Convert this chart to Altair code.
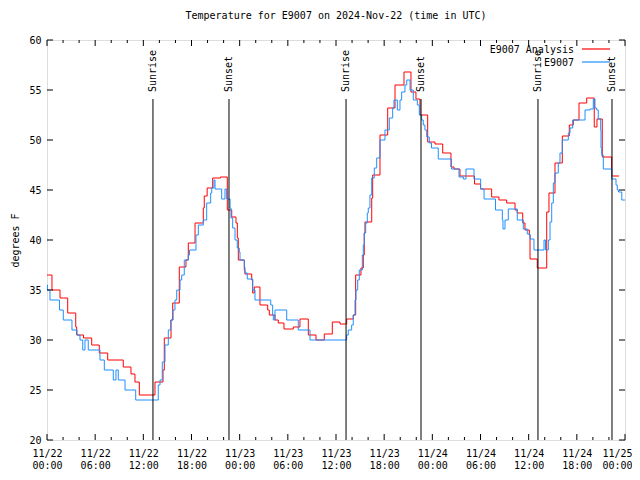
import altair as alt
import pandas as pd

# ---- data (hours since 2024-11-22 00:00 UTC, degrees F) ----
red_hours = [0.0, 0.62, 1.62, 2.58, 3.58, 3.70, 4.55, 5.57, 6.51, 7.56, 9.50, 10.46, 10.96, 11.50, 13.45, 14.45, 14.61, 15.45, 15.66, 16.48, 17.31, 17.60, 18.44, 19.47, 19.59, 19.95, 20.64, 21.61, 22.46, 23.01, 23.54, 23.71, 23.83, 24.58, 24.66, 25.50, 25.62, 25.82, 26.53, 27.49, 27.69, 28.40, 28.81, 29.52, 30.68, 31.51, 32.55, 33.51, 34.54, 35.54, 36.50, 37.33, 38.15, 38.45, 39.11, 39.40, 39.52, 39.61, 40.45, 40.57, 41.48, 42.44, 43.35, 44.47, 45.34, 45.96, 46.46, 47.42, 48.33, 49.29, 50.32, 50.70, 51.44, 53.25, 54.00, 55.39, 56.30, 57.26, 58.30, 58.58, 59.26, 59.54, 60.08, 60.17, 61.07, 62.25, 62.53, 63.28, 64.19, 65.06, 65.56, 66.27, 67.23, 68.17, 68.51, 69.17, 70.34, 71.25]
red_temps = [36.5, 35.0, 34.2, 32.7, 31.3, 30.5, 30.2, 29.5, 28.7, 28.0, 27.3, 26.6, 25.8, 24.5, 25.8, 27.0, 30.2, 32.0, 33.7, 37.3, 38.0, 39.7, 41.7, 43.2, 44.4, 45.2, 46.2, 46.3, 43.0, 42.3, 41.7, 40.2, 38.0, 37.0, 36.6, 36.0, 34.7, 35.3, 33.5, 33.0, 32.5, 32.0, 31.7, 31.1, 31.3, 32.1, 30.5, 30.0, 30.6, 31.8, 31.6, 32.1, 32.5, 36.5, 37.2, 38.5, 40.7, 41.8, 44.2, 46.5, 50.5, 53.2, 55.5, 56.8, 54.8, 54.1, 52.5, 49.8, 49.6, 48.7, 47.3, 47.1, 46.4, 45.6, 45.1, 44.3, 44.0, 43.7, 43.0, 42.7, 41.7, 41.0, 40.5, 38.1, 37.2, 42.8, 44.7, 47.7, 50.4, 51.5, 52.0, 53.7, 54.2, 51.3, 52.1, 48.3, 46.4, 46.4]

blue_hours = [0.0, 0.06, 0.37, 1.56, 2.03, 3.11, 3.74, 4.11, 4.45, 4.73,
              5.14, 6.60, 7.14, 8.26, 8.59, 8.88, 9.72, 11.05, 13.86, 14.08,
              14.36, 14.70, 15.11, 15.41, 15.70, 15.94, 16.16, 16.57, 16.78, 17.10,
              17.60, 17.75, 18.56, 18.85, 19.47, 19.89, 20.39, 20.52, 20.80, 20.93,
              21.76, 22.17, 22.38, 22.80, 22.92, 23.13, 23.42, 23.70, 23.95, 24.04,
              24.58, 24.66, 24.95, 25.62, 25.91, 27.87, 28.11, 28.19, 28.40, 29.86,
              31.30, 32.76, 37.33, 37.53, 37.95, 38.15, 38.37, 38.49, 38.70, 38.90,
              39.28, 39.40, 39.52, 39.70, 39.90, 40.02, 40.23, 40.45, 40.77, 41.07,
              41.48, 42.10, 42.64, 43.06, 43.22, 43.64, 43.97, 44.18, 44.59, 44.81,
              45.22, 45.63, 46.13, 46.38, 46.67, 46.87, 47.08, 47.30, 47.62, 47.90,
              48.74, 50.39, 51.32, 51.86, 52.19, 53.19, 54.02, 54.44, 55.87, 56.72,
              56.80, 57.05, 57.46, 58.58, 59.33, 59.83, 60.17, 60.66, 61.91, 62.10,
              62.45, 62.66, 62.87, 63.07, 63.28, 63.69, 63.90, 64.19, 64.94, 65.15,
              65.48, 67.02, 67.64, 68.05, 68.26, 68.47, 68.67, 68.97, 69.01, 69.10,
              69.30, 70.34, 70.88, 71.04, 71.20, 71.60, 72.0]
blue_temps = [35.5, 35.0, 34.0, 33.0, 32.0, 31.0, 30.5, 30.0, 29.0, 30.0,
              29.0, 28.0, 27.0, 26.0, 27.0, 26.0, 25.0, 24.0, 25.5, 26.0,
              27.8, 29.5, 31.0, 32.0, 33.0, 34.0, 35.0, 36.0, 36.5, 38.0,
              38.5, 39.0, 40.5, 41.5, 42.0, 43.7, 44.7, 45.2, 46.0, 45.1,
              44.1, 45.1, 44.1, 43.2, 42.2, 41.2, 40.0, 39.2, 38.8, 38.0,
              37.3, 36.7, 36.1, 35.0, 34.0, 33.5, 32.5, 32.0, 33.0, 32.0,
              31.0, 30.0, 30.5, 31.0, 31.5, 32.5, 34.0, 35.0, 36.0, 37.0,
              38.5, 39.5, 40.7, 41.7, 42.7, 43.2, 44.5, 46.2, 47.2, 48.2,
              50.0, 51.0, 52.2, 53.2, 54.0, 53.0, 54.0, 54.8, 55.5, 56.0,
              55.0, 54.0, 53.5, 52.5, 52.0, 51.5, 51.0, 50.3, 49.7, 49.2,
              48.1, 47.1, 46.3, 46.1, 47.1, 46.1, 45.1, 44.1, 43.0, 42.0,
              41.1, 42.0, 43.1, 42.0, 41.1, 40.6, 40.1, 39.0, 40.0, 39.0,
              40.0, 41.8, 43.7, 45.7, 46.7, 47.7, 48.7, 50.0, 50.7, 51.2,
              52.0, 53.0, 53.1, 54.1, 53.2, 53.0, 52.1, 51.0, 49.2, 48.5,
              47.1, 46.1, 45.5, 45.0, 44.8, 44.0, 44.0]

sun_hours = [13.20, 22.67, 37.25, 46.59, 61.16, 70.38]
sun_labels = ["Sunrise", "Sunset", "Sunrise", "Sunset", "Sunrise", "Sunset"]

x_major = list(range(0, 73, 6))
x_minor = [h for h in range(0, 73, 2) if h % 6 != 0]
y_major = [20, 25, 30, 35, 40, 45, 50, 55, 60]

legend_labels = ["E9007 Analysis", "E9007"]
title_text = "Temperature for E9007 on 2024-Nov-22 (time in UTC)"

# ---- styling ----
W, H = 578, 400
FONT = "DejaVu Sans Mono"
RED = "#ff0000"
BLUE = "#1e90ff"

red_df = pd.DataFrame({"hour": red_hours, "temp": red_temps})
blue_df = pd.DataFrame({"hour": blue_hours, "temp": blue_temps})
sun_df = pd.DataFrame({"hour": sun_hours, "label": sun_labels})
xmaj_df = pd.DataFrame({"hour": x_major})
xmin_df = pd.DataFrame({"hour": x_minor})
ymaj_df = pd.DataFrame({"temp": y_major})

x_scale = alt.Scale(domain=[0, 72], nice=False, zero=False)
y_scale = alt.Scale(domain=[20, 60], nice=False, zero=False)

x_axis = alt.Axis(
    values=x_major, ticks=False, domain=False, grid=False, title=None,
    labelExpr="['11/' + (22 + floor(datum.value / 24)), (datum.value % 24 < 10 ? '0' : '') + (datum.value % 24) + ':00']",
    labelFont=FONT, labelFontSize=10, labelColor="black", labelPadding=8,
    labelLineHeight=12, labelFlush=False, labelOverlap=False,
    labelOffset={"condition": {"test": "datum.value >= 72", "value": -8}, "value": 0},
)
y_axis = alt.Axis(
    values=y_major, ticks=False, domain=False, grid=False, title="degrees F",
    labelFont=FONT, labelFontSize=10, labelColor="black", labelPadding=6,
    titleFont=FONT, titleFontSize=10, titleFontWeight="normal", titleColor="black",
    titlePadding=8,
)

X = alt.X("hour:Q", scale=x_scale, axis=x_axis)
Y = alt.Y("temp:Q", scale=y_scale, axis=y_axis)

red_line = alt.Chart(red_df).mark_line(interpolate="step-after", color=RED, strokeWidth=1).encode(x=X, y=Y)
blue_line = alt.Chart(blue_df).mark_line(interpolate="step-after", color=BLUE, strokeWidth=1).encode(x=X, y=Y)

sun_rules = alt.Chart(sun_df).mark_rule(color="black", strokeWidth=1).encode(
    x=X,
    y=alt.datum(54.1, scale=y_scale, axis=y_axis),
    y2=alt.datum(20),
)
sun_text = alt.Chart(sun_df).mark_text(
    angle=270, align="left", baseline="middle", font=FONT, fontSize=10, color="black", dx=1
).encode(
    x=X,
    y=alt.datum(54.7, scale=y_scale, axis=y_axis),
    text="label:N",
)

# inward ticks (gnuplot style), mirrored on all sides
def xticks(df, length):
    bot = alt.Chart(df).mark_rule(color="black", strokeWidth=1).encode(
        x=X, y=alt.value(H), y2=alt.value(H - length))
    top = alt.Chart(df).mark_rule(color="black", strokeWidth=1).encode(
        x=X, y=alt.value(0), y2=alt.value(length))
    return [bot, top]

yt_left = alt.Chart(ymaj_df).mark_rule(color="black", strokeWidth=1).encode(
    y=Y, x=alt.value(0), x2=alt.value(6))
yt_right = alt.Chart(ymaj_df).mark_rule(color="black", strokeWidth=1).encode(
    y=Y, x=alt.value(W), x2=alt.value(W - 6))

# legend (gnuplot style: label then line sample, top-right)
leg_layers = []
for i, (lab, col) in enumerate(zip(legend_labels, [RED, BLUE])):
    d = pd.DataFrame({"label": [lab]})
    leg_layers.append(alt.Chart(d).mark_text(align="right", baseline="middle", font=FONT, fontSize=10,
                                             color="black").encode(
        x=alt.value(527), y=alt.value(10 + 13 * i), text="label:N"))
    leg_layers.append(alt.Chart(d).mark_rule(color=col, strokeWidth=1.2).encode(
        x=alt.value(535), x2=alt.value(563), y=alt.value(9 + 13 * i)))

chart = alt.layer(
    red_line, blue_line, sun_rules, sun_text,
    *xticks(xmaj_df, 6), *xticks(xmin_df, 3), yt_left, yt_right,
    *leg_layers,
).properties(
    width=W, height=H,
    autosize=alt.AutoSizeParams(type="none"),
    padding={"left": 39, "top": 32, "right": 7, "bottom": 30},
    title=alt.TitleParams(title_text, font=FONT, fontSize=10, fontWeight="normal",
                          color="black", anchor="middle", offset=14),
).configure_view(
    stroke="black", strokeWidth=1
).configure(background="white")

chart.save("out.html", embed_options={"renderer": "svg", "actions": False})
